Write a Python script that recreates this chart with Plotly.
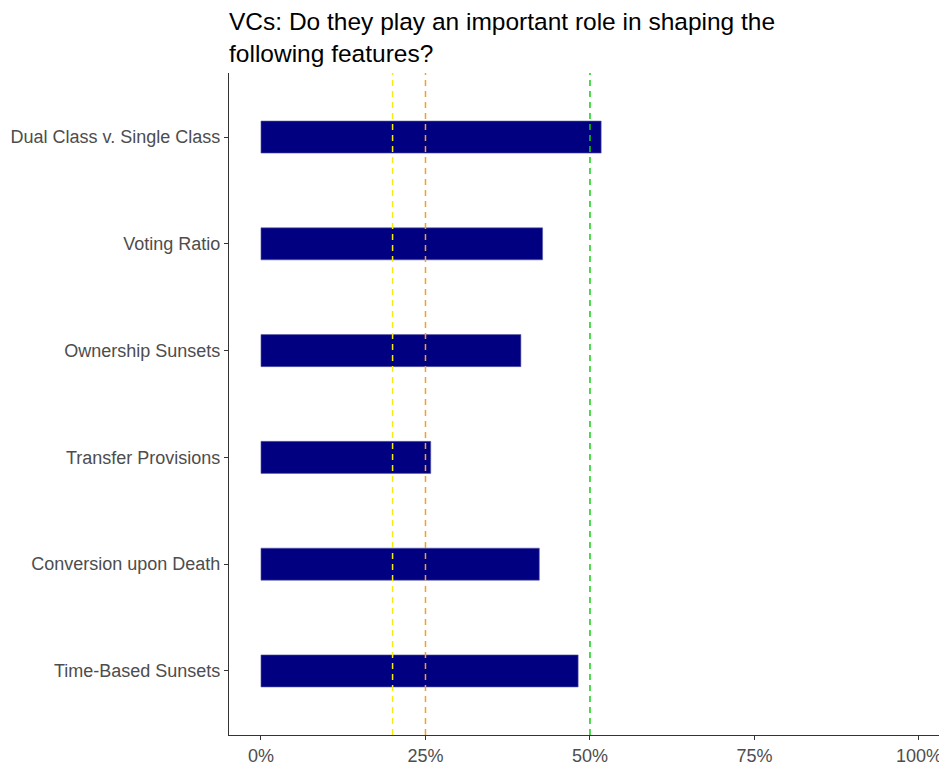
import plotly.graph_objects as go

categories = ["Dual Class v. Single Class", "Voting Ratio", "Ownership Sunsets",
              "Transfer Provisions", "Conversion upon Death", "Time-Based Sunsets"]
values = [0.517, 0.428, 0.395, 0.258, 0.423, 0.482]
ref_values = [0.20, 0.25, 0.50]
ref_colors = ["#F5EB10", "#F5A020", "#10D010"]
tick_vals = [0, 0.25, 0.5, 0.75, 1.0]
tick_text = ["0%", "25%", "50%", "75%", "100%"]

W, H = 939, 757  # page body adds an 8px offset

fig = go.Figure()
fig.add_trace(go.Bar(
    x=values, y=categories, orientation="h", width=0.3,
    marker=dict(color="#000080", line=dict(color="#5a5aa8", width=0.6)),
    showlegend=False, hoverinfo="x+y",
))

for v, c in zip(ref_values, ref_colors):
    fig.add_shape(type="line", x0=v, x1=v, y0=0, y1=1, xref="x", yref="paper",
                  line=dict(color=c, width=1.5, dash="6px,5px"), layer="above")

fig.update_layout(
    width=W, height=H,
    paper_bgcolor="white", plot_bgcolor="white",
    margin=dict(l=221, r=0, t=65, b=30),
    font=dict(family="Liberation Sans, Arial, sans-serif"),
    title=dict(text="VCs: Do they play an important role in shaping the<br>following features?",
               x=221 / W, xanchor="left", y=1 - 22 / H, yanchor="top",
               font=dict(size=24.5, color="black")),
    bargap=0.7,
)
fig.update_xaxes(range=[-0.0486, 1.0426], tickvals=tick_vals, ticktext=tick_text,
                 showgrid=False, zeroline=False, showline=True, linecolor="#333333",
                 linewidth=1.2, ticks="outside", ticklen=4, tickcolor="#333333",
                 tickfont=dict(size=18, color="#4d4d4d"))
fig.update_yaxes(categoryorder="array", categoryarray=categories[::-1],
                 range=[-0.6, 5.6],
                 showgrid=False, zeroline=False, showline=True, linecolor="#333333",
                 linewidth=1.2, ticks="outside", ticklen=4, tickcolor="#333333",
                 tickfont=dict(size=18, color="#4d4d4d"))

fig.write_html("out.html")
